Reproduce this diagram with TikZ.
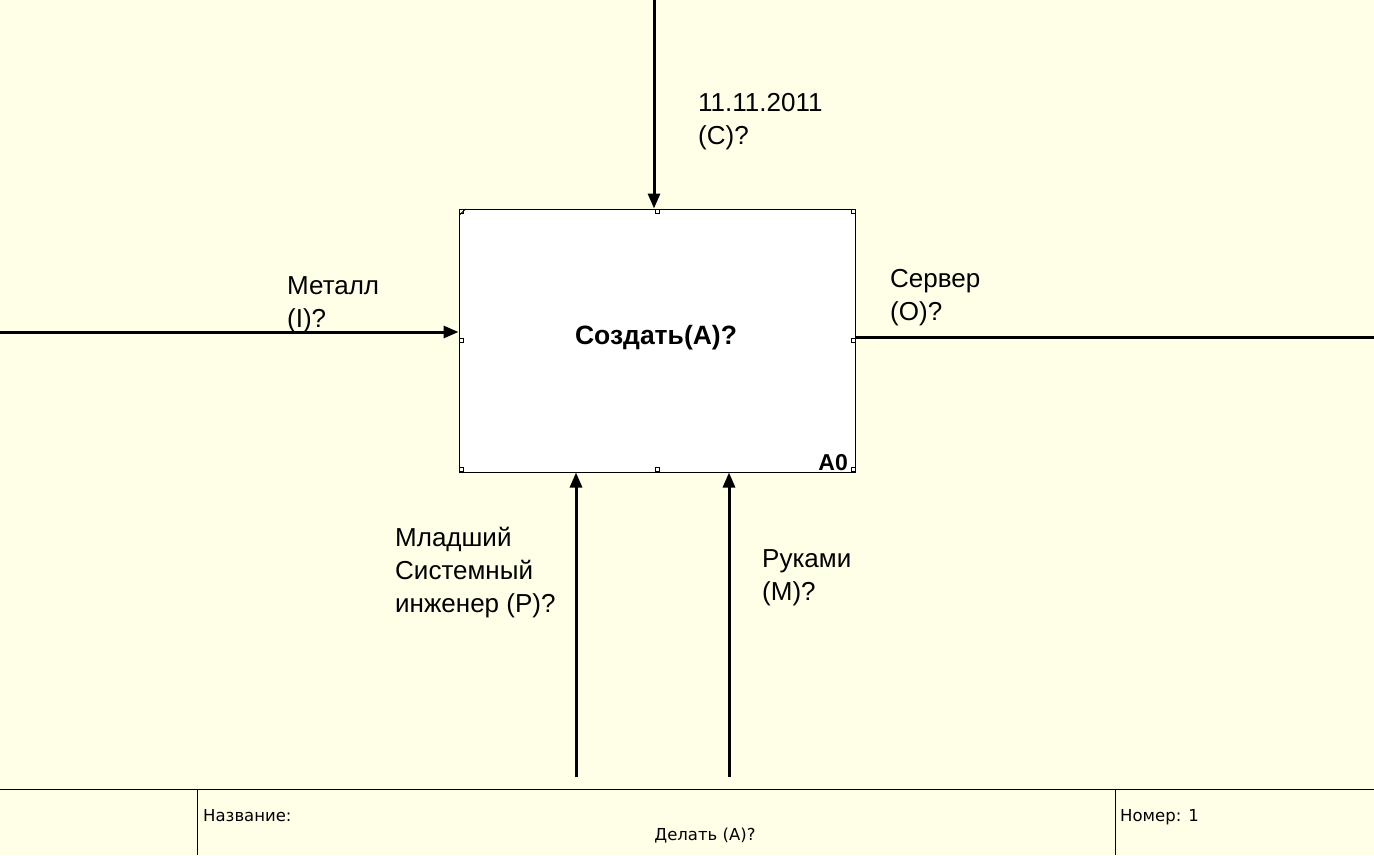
\documentclass[tikz,border=0pt]{standalone}
\usepackage{fontspec}
\setmainfont{Liberation Sans}
\newfontfamily\footfont{DejaVu Sans}
\usetikzlibrary{arrows.meta}
\definecolor{bgyellow}{RGB}{255,255,232}
\tikzset{
  flow/.style={line width=3pt},
  flowarrow/.style={line width=3pt,-{Triangle[length=15pt,width=12pt]}},
  lbl/.style={anchor=base west,inner sep=0pt,align=left,font=\fontsize{26}{33}\selectfont},
  foot/.style={anchor=base west,inner sep=0pt,font=\footfont\fontsize{16.5}{18}\selectfont},
  handle/.style={draw,line width=0.8pt,fill=white,minimum size=4pt,inner sep=0pt},
  thin/.style={line width=1pt}
}
\begin{document}
\begin{tikzpicture}[x=1pt,y=-1pt]
\useasboundingbox[fill=bgyellow] (0,0) rectangle (1374,855);
% activity box
\node[draw,thin,fill=white,minimum width=396pt,minimum height=263pt,inner sep=0pt] (box) at (657,340.5) {};
\node[anchor=base,inner sep=0pt,font=\bfseries\fontsize{26.5}{30}\selectfont] (title) at (656,344) {Создать(A)?};
\node[anchor=base east,inner sep=0pt,font=\bfseries\fontsize{23}{26}\selectfont] (num) at (848,470) {A0};
% handles
\node[handle] (h1) at (461,211) {};
\node[handle] (h2) at (657,211) {};
\node[handle] (h3) at (853,211) {};
\node[handle] (h4) at (461,340) {};
\node[handle] (h5) at (853,340) {};
\node[handle] (h6) at (461,469) {};
\node[handle] (h7) at (657,469) {};
\node[handle] (h8) at (853,469) {};
\coordinate (c1) at (459.5,215);
\coordinate (c2) at (465.5,209);
\draw[line width=0.8pt] (c1) -- (c2);
% connectors
\coordinate (ctop) at (654,0);
\coordinate (ileft) at (0,332);
\coordinate (oright) at (1374,337);
\coordinate (mech1) at (576,777);
\coordinate (mech2) at (729,777);
\draw[flowarrow] (ctop) -- (ctop |- box.north);
\draw[flowarrow] (ileft) -- (ileft -| box.west);
\draw[flow] (oright -| box.east) -- (oright);
\draw[flowarrow] (mech1) -- (mech1 |- box.south);
\draw[flowarrow] (mech2) -- (mech2 |- box.south);
% labels (anchored at the baseline of the last line)
\node[lbl] (lc) at (698,144) {11.11.2011\\(C)?};
\node[lbl] (li) at (287,327) {Металл\\(I)?};
\node[lbl] (lo) at (890,320) {Сервер\\(O)?};
\node[lbl] (lp) at (395,612) {Младший\\Системный\\инженер (P)?};
\node[lbl] (lm) at (762,600) {Руками\\(M)?};
% footer
\coordinate (f0) at (0,789.5);
\coordinate (f1) at (1374,789.5);
\coordinate (v1) at (197.5,855);
\coordinate (v2) at (1115.5,855);
\draw[thin] (f0) -- (f1);
\draw[thin] (v1 |- f0) -- (v1);
\draw[thin] (v2 |- f0) -- (v2);
\node[foot] (fn) at (203,821) {Название:};
\node[foot,anchor=base] (ft) at (705,840) {Делать (A)?};
\node[foot] (fr) at (1120,821) {Номер: 1};
\end{tikzpicture}
\end{document}
